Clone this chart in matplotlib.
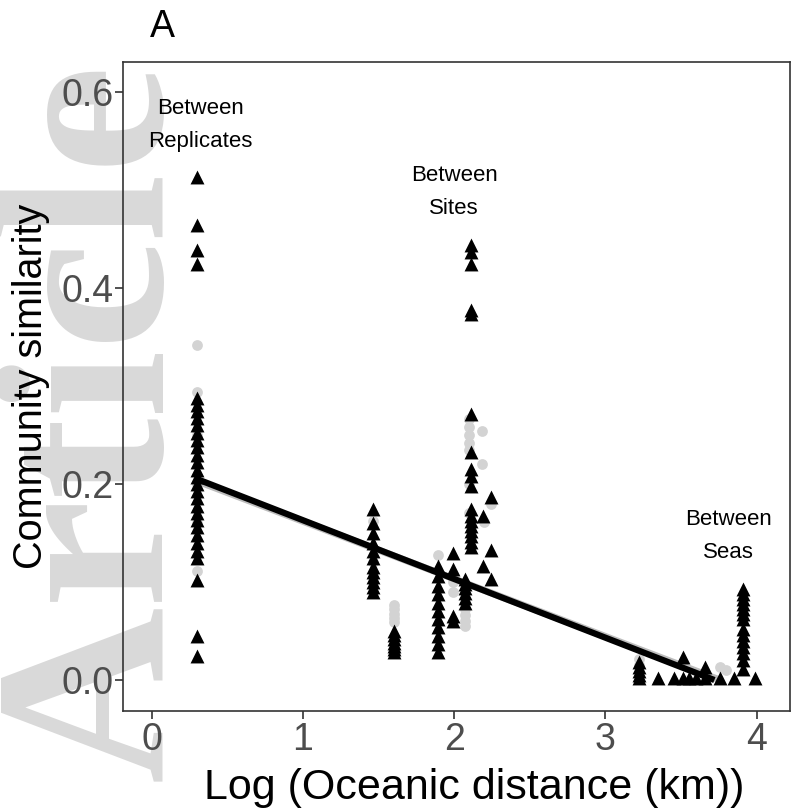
import numpy as np
import matplotlib
matplotlib.use("Agg")
import matplotlib.pyplot as plt
from matplotlib import font_manager as fm

plt.rcParams['font.family'] = ['Liberation Sans', 'DejaVu Sans']

# --- data (log oceanic distance vs community similarity) ---
# black triangles
tri_x = ([0.30] * 30
         + [1.46] * 12
         + [1.60] * 7
         + [1.89] * 11
         + [1.99] * 4
         + [2.07] * 6
         + [2.11] * 18
         + [2.19] * 2
         + [2.245] * 3
         + [3.22] * 5
         + [3.35, 3.45, 3.51, 3.51, 3.55, 3.60, 3.66, 3.66, 3.76, 3.85]
         + [3.91] * 14
         + [3.99])
tri_y = ([0.513, 0.464, 0.439, 0.424,
          0.288, 0.281, 0.274, 0.267, 0.26, 0.252, 0.245, 0.238, 0.23, 0.222,
          0.214, 0.207, 0.2, 0.193, 0.186, 0.178, 0.17, 0.163, 0.156, 0.148,
          0.14, 0.132, 0.124, 0.102, 0.045, 0.025]
         + [0.174, 0.16, 0.15, 0.14, 0.132, 0.124, 0.115, 0.11, 0.105, 0.1, 0.095, 0.09]
         + [0.05, 0.046, 0.042, 0.038, 0.035, 0.032, 0.029]
         + [0.116, 0.106, 0.096, 0.088, 0.079, 0.07, 0.062, 0.054, 0.045, 0.037, 0.029]
         + [0.130, 0.113, 0.065, 0.06]
         + [0.103, 0.098, 0.094, 0.089, 0.084, 0.079]
         + [0.444, 0.437, 0.424, 0.378, 0.373, 0.271, 0.233, 0.215, 0.208, 0.198,
            0.175, 0.167, 0.162, 0.157, 0.152, 0.147, 0.141, 0.136]
         + [0.167, 0.116]
         + [0.187, 0.133, 0.103]
         + [0.018, 0.013, 0.009, 0.005, 0.002]
         + [0.002, 0.002, 0.002, 0.023, 0.002, 0.002, 0.013, 0.002, 0.002, 0.002]
         + [0.093, 0.088, 0.083, 0.078, 0.072, 0.067, 0.062,
            0.052, 0.046, 0.04, 0.034, 0.028, 0.02, 0.011]
         + [0.002])

# grey circles
dot_x = ([0.30] * 6
         + [1.46] * 2
         + [1.60] * 5
         + [1.89, 1.99, 1.99]
         + [2.07] * 4
         + [2.10] * 7
         + [2.185, 2.185, 2.2, 2.245]
         + [3.22, 3.22, 3.76, 3.80])
dot_y = ([0.342, 0.294, 0.25, 0.2, 0.16, 0.111]
         + [0.162, 0.12]
         + [0.077, 0.072, 0.067, 0.063, 0.059]
         + [0.128, 0.10, 0.09]
         + [0.072, 0.066, 0.06, 0.055]
         + [0.266, 0.258, 0.25, 0.242, 0.235, 0.2, 0.17]
         + [0.254, 0.22, 0.161, 0.18]
         + [0.021, 0.015, 0.013, 0.01])

# fitted lines (endpoints)
fit_x = [0.30, 3.72]
fit_black = [0.205, 0.0]
fit_grey_x = [0.30, 3.74]
fit_grey = [0.203, 0.001]

annot = [(0.32, 0.566, "Between\nReplicates"),
         (2.0, 0.498, "Between\nSites"),
         (3.81, 0.147, "Between\nSeas")]

fig = plt.figure(figsize=(7.92, 8.11), dpi=100)
ax = fig.add_axes([0.1553, 0.1233, 0.8422, 0.8002])
ax.patch.set_alpha(0)

# watermark behind everything (serif, bold)
wm_font = fm.FontProperties(family=["Liberation Serif", "DejaVu Serif"],
                            weight="bold", size=176)
fig.text(161 / 792, 1 - 781 / 811, "Article", rotation=90, rotation_mode="anchor",
         ha="left", va="baseline", fontproperties=wm_font,
         color="#d9d9d9", zorder=-5)

ax.plot(fit_grey_x, fit_grey, color="#bdbdbd", lw=5, solid_capstyle="butt", zorder=2)
ax.scatter(dot_x, dot_y, s=60, color="#d3d3d3", marker="o", linewidths=0, zorder=1)
ax.scatter(tri_x, tri_y, s=100, color="black", marker="^", linewidths=0, zorder=3)
ax.plot(fit_x, fit_black, color="black", lw=4.5, solid_capstyle="butt", zorder=4)

for x, y, t in annot:
    ax.text(x, y, t, ha="center", va="center", fontsize=16, linespacing=1.75)

ax.set_xlim(-0.19, 4.22)
ax.set_ylim(-0.0316, 0.6305)
ax.set_xticks([0, 1, 2, 3, 4])
ax.set_yticks([0.0, 0.2, 0.4, 0.6])
ax.set_yticklabels(["0.0", "0.2", "0.4", "0.6"])
ax.tick_params(labelsize=27, labelcolor="#4d4d4d", length=5.5, width=1.2,
               color="#333333", pad=2.5)
ax.tick_params(axis="y", pad=1.5)
ax.set_xlabel("Log (Oceanic distance (km))", fontsize=31, labelpad=7)
ax.xaxis.label.set_x(0.526)
ax.set_ylabel("Community similarity", fontsize=28.5, labelpad=8)
for s in ax.spines.values():
    s.set_linewidth(1.2)
    s.set_color("#333333")

fig.text(162 / 792, 1 - 27 / 811, "A", fontsize=27, ha="center", va="center")

fig.savefig("out.png", dpi=100)
